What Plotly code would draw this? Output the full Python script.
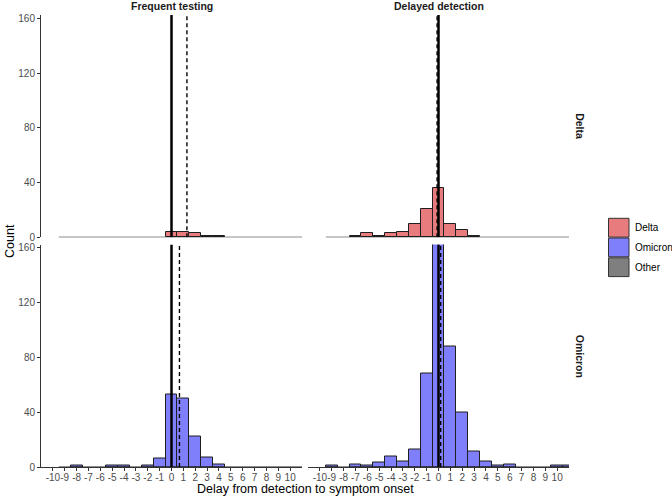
import plotly.graph_objects as go

# ---------------- data ----------------
bins = list(range(-9, 12))  # bin centres, width 1
# counts per bin (-9 .. 11)
freq_delta    = [0, 0, 0, 0, 0, 0, 0, 0, 0, 4, 4, 3, 1, 1, 0, 0, 0, 0, 0, 0, 0]
delayed_delta = [0, 0, 1, 3, 1, 3, 4, 10, 21, 36, 10, 5, 1, 0, 0, 0, 0, 0, 0, 0, 0]
freq_omicron  = [0, 1, 0, 0, 1, 1, 0, 1, 6, 53, 50, 22, 7, 2, 0, 0, 0, 0, 0, 0, 0]
delayed_omicron = [1, 0, 2, 1, 3, 8, 4, 13, 68, 170, 88, 40, 11, 4, 1, 2, 0, 0, 0, 1, 1]

mean_delay = {"freq_delta": 1.3, "delayed_delta": -0.12,
              "freq_omicron": 0.67, "delayed_omicron": 0.18}

x_ticks = list(range(-10, 11))
y_ticks = [0, 40, 80, 120, 160]
col_labels = ["Frequent testing", "Delayed detection"]
row_labels = ["Delta", "Omicron"]
legend_labels = ["Delta", "Omicron", "Other"]

# ---------------- styles ----------------
W, H = 672, 498
COL = {"Delta": "#E77B7D", "Omicron": "#7F7FFB", "Other": "#7F7F7F"}
OUT = "#1F1F1F"
FONT = "Liberation Sans, Arial, Helvetica, sans-serif"
XR = [-11, 11]
YR = [0, 162.5]

def px_x(p): return p / W
def px_y(p): return 1 - p / H

xdom = [[px_x(41), px_x(302)], [px_x(308), px_x(569)]]
ydom = [[px_y(237.3), px_y(15)], [px_y(467), px_y(244.5)]]  # top row, bottom row

fig = go.Figure()

panels = [
    (0, 0, freq_delta, "freq_delta", "Delta"),
    (0, 1, delayed_delta, "delayed_delta", "Delta"),
    (1, 0, freq_omicron, "freq_omicron", "Omicron"),
    (1, 1, delayed_omicron, "delayed_omicron", "Omicron"),
]

layout_axes = {}
for i, (r, c, counts, key, variant) in enumerate(panels):
    n = i + 1
    xa = "x" if n == 1 else f"x{n}"
    ya = "y" if n == 1 else f"y{n}"
    xs = [b for b, v in zip(bins, counts) if v > 0]
    ys = [v for v in counts if v > 0]
    # baseline of zero-count bins
    fig.add_trace(go.Scatter(x=[bins[0] - 0.5, bins[-1] + 0.5], y=[0, 0], mode="lines",
                             line=dict(color=OUT, width=1.2), xaxis=xa, yaxis=ya,
                             showlegend=False, hoverinfo="skip", cliponaxis=True))
    fig.add_trace(go.Bar(x=xs, y=ys, width=1, marker=dict(color=COL[variant],
                         line=dict(color=OUT, width=1)), xaxis=xa, yaxis=ya,
                         showlegend=False))
    # zero reference line
    fig.add_trace(go.Scatter(x=[0, 0], y=YR, mode="lines", line=dict(color="black", width=2.5),
                             xaxis=xa, yaxis=ya, showlegend=False, hoverinfo="skip"))
    # mean line
    m = mean_delay[key]
    fig.add_trace(go.Scatter(x=[m, m], y=YR, mode="lines",
                             line=dict(color="black", width=1.4, dash="4px,3px"),
                             xaxis=xa, yaxis=ya, showlegend=False, hoverinfo="skip"))

    bottom = r == 1
    left = c == 0
    xkey = "xaxis" if n == 1 else f"xaxis{n}"
    ykey = "yaxis" if n == 1 else f"yaxis{n}"
    layout_axes[xkey] = dict(
        domain=xdom[c], range=XR, anchor=ya, tickmode="array", tickvals=x_ticks,
        ticktext=[str(t) for t in x_ticks], showticklabels=bottom, tickangle=0,
        ticks="outside" if bottom else "", ticklen=3, tickcolor="#333333",
        ticklabelstandoff=-2,
        showline=bottom, linecolor="#333333", linewidth=1, showgrid=False, zeroline=False,
        tickfont=dict(size=10, color="#4D4D4D", family=FONT), fixedrange=True, automargin=False,
    )
    layout_axes[ykey] = dict(
        domain=ydom[r], range=YR, anchor=xa, tickmode="array", tickvals=y_ticks,
        showticklabels=left, ticks="outside" if left else "", ticklen=3, tickcolor="#333333",
        showline=left, linecolor="#333333", linewidth=1, showgrid=False, zeroline=False,
        tickfont=dict(size=10, color="#4D4D4D", family=FONT), fixedrange=True, automargin=False,
    )

annotations = []
# column strip labels
for c, lab in enumerate(col_labels):
    annotations.append(dict(text=f"<b>{lab}</b>", x=(xdom[c][0] + xdom[c][1]) / 2, y=px_y(5.5),
                            xref="paper", yref="paper", showarrow=False,
                            xanchor="center", yanchor="middle",
                            font=dict(size=10.5, color="#1A1A1A", family=FONT)))
# row strip labels
for r, lab in enumerate(row_labels):
    annotations.append(dict(text=f"<b>{lab}</b>", x=px_x(580), y=(ydom[r][0] + ydom[r][1]) / 2,
                            xref="paper", yref="paper", showarrow=False, textangle=90,
                            xanchor="center", yanchor="middle",
                            font=dict(size=10.5, color="#1A1A1A", family=FONT)))
# axis titles
annotations.append(dict(text="Delay from detection to symptom onset", x=px_x(305), y=px_y(489),
                        xref="paper", yref="paper", showarrow=False,
                        xanchor="center", yanchor="middle",
                        font=dict(size=12.5, color="black", family=FONT)))
annotations.append(dict(text="Count", x=px_x(10), y=px_y(241), xref="paper", yref="paper",
                        showarrow=False, textangle=-90, xanchor="center", yanchor="middle",
                        font=dict(size=12.5, color="black", family=FONT)))

# manual legend
shapes = []
box_tops = [218.3, 238.0, 257.8]
for lab, top in zip(legend_labels, box_tops):
    shapes.append(dict(type="rect", xref="paper", yref="paper",
                       x0=px_x(608.5), x1=px_x(629), y0=px_y(top + 18.8), y1=px_y(top),
                       fillcolor=COL[lab], line=dict(color="#333333", width=1)))
    annotations.append(dict(text=lab, x=px_x(633.5), y=px_y(top + 9.6), xref="paper", yref="paper",
                            xanchor="left", yanchor="middle", showarrow=False, borderpad=0,
                            font=dict(size=10, color="black", family=FONT)))

fig.update_layout(
    width=W, height=H, margin=dict(l=0, r=0, t=0, b=0, autoexpand=False),
    paper_bgcolor="white", plot_bgcolor="white", bargap=0,
    annotations=annotations, shapes=shapes, showlegend=False,
    font=dict(family=FONT),
    **layout_axes,
)

fig.write_html("out.html", config={"displayModeBar": False},
               post_script="document.body.style.margin='0';document.body.style.padding='0';")
